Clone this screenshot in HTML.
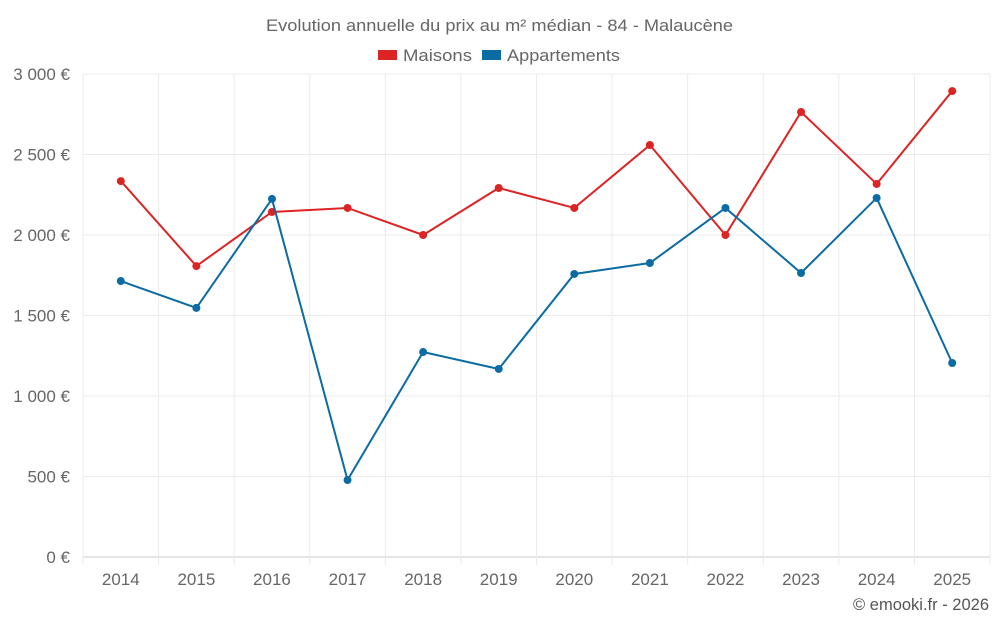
<!DOCTYPE html>
<html><head><meta charset="utf-8">
<style>
body{margin:0;background:#fff;font-family:"Liberation Sans",sans-serif;}
svg text{font-family:"Liberation Sans",sans-serif;}
</style></head>
<body>
<svg id="chart" width="1000" height="625" viewBox="0 0 1000 625" xmlns="http://www.w3.org/2000/svg">
<text x="266" y="31" textLength="467" lengthAdjust="spacingAndGlyphs" font-size="16.5" fill="#666">Evolution annuelle du prix au m² médian - 84 - Malaucène</text>
<g>
<g><rect x="378" y="50" width="19" height="10" fill="#dc2424"/><text x="403" y="61" textLength="69" lengthAdjust="spacingAndGlyphs" font-size="16.5" fill="#666">Maisons</text></g>
<g><rect x="482" y="50" width="19" height="10" fill="#0b6ba3"/><text x="507" y="61" textLength="113" lengthAdjust="spacingAndGlyphs" font-size="16.5" fill="#666">Appartements</text></g>
</g>
<g id="grid"></g>
<g id="axes"></g>
<g id="series"></g>
<text x="989" y="610" text-anchor="end" font-size="16.5" fill="#555">© emooki.fr - 2026</text>
</svg>
<script>
const years=["2014","2015","2016","2017","2018","2019","2020","2021","2022","2023","2024","2025"];
const maisons=[2335,1807,2143,2168,2000,2292,2168,2559,2000,2764,2317,2894];
const appartements=[1714,1547,2224,478,1273,1168,1758,1826,2168,1764,2230,1205];
const yTicks=[0,500,1000,1500,2000,2500,3000];
const yTickLabels=["0 €","500 €","1 000 €","1 500 €","2 000 €","2 500 €","3 000 €"];

const NS="http://www.w3.org/2000/svg";
const L=83,R=990,T=74,B=557,YMAX=3000;
const bw=(R-L)/years.length;
const xs=i=>L+bw*(i+0.5);
const ys=v=>B-(v/YMAX)*(B-T);
function mk(tag,attrs,parent){const e=document.createElementNS(NS,tag);for(const k in attrs)e.setAttribute(k,attrs[k]);parent.appendChild(e);return e;}
const grid=document.getElementById('grid'),axes=document.getElementById('axes'),series=document.getElementById('series');
yTicks.forEach((t,i)=>{
  const y=ys(t);
  const ln=mk('line',{x1:L,x2:R,y1:y,y2:y,stroke:i===0?'#ccc':'#ebebeb','stroke-width':1},grid);
  
  
  const tx=mk('text',{x:70,y:y+6,'text-anchor':'end','font-size':17,fill:'#666'},axes);
  tx.textContent=yTickLabels[i];
  
  
});
for(let i=0;i<=years.length;i++){
  const x=L+bw*i;
  const ln=mk('line',{x1:x,x2:x,y1:T,y2:B+8,stroke:'#ebebeb','stroke-width':1},grid);
  
  
}
years.forEach((yr,i)=>{
  const tx=mk('text',{x:xs(i),y:585,'text-anchor':'middle','font-size':17,fill:'#666'},axes);
  tx.textContent=yr;
  
  
});
function drawSeries(vals,color,name){
  const pl=mk('polyline',{points:vals.map((v,i)=>xs(i)+','+ys(v)).join(' '),fill:'none',stroke:color,'stroke-width':2},series);
  
  
  vals.forEach((v,i)=>{
    const c=mk('circle',{cx:xs(i),cy:ys(v),r:4,fill:color},series);
    
    
  });
}
drawSeries(maisons,'#dc2424','maisons');
drawSeries(appartements,'#0b6ba3','appartements');
</script>
</body></html>
